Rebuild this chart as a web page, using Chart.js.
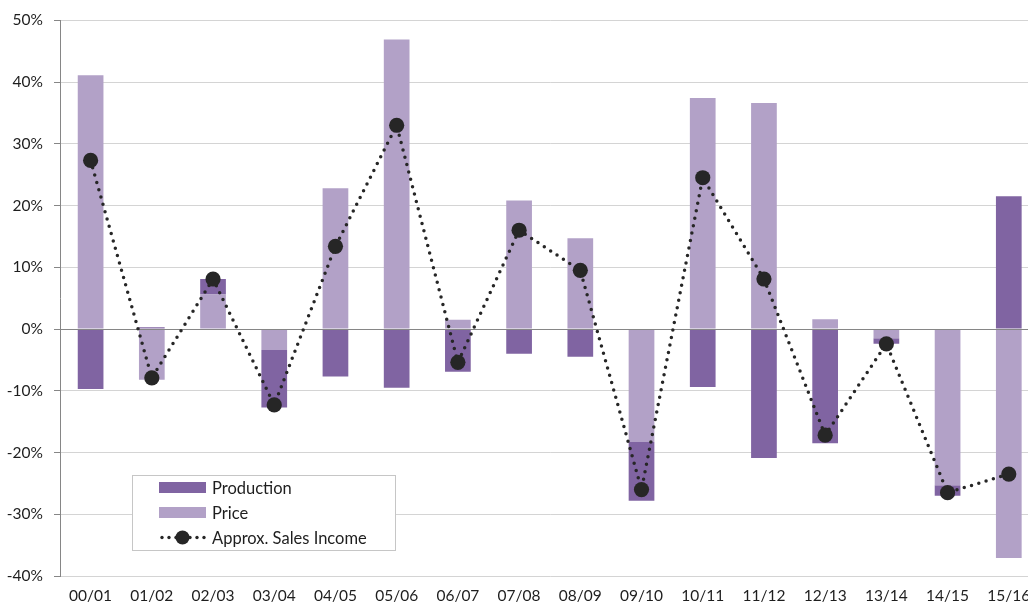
<!DOCTYPE html>
<html>
<head>
<meta charset="utf-8">
<script src="https://cdn.jsdelivr.net/npm/chart.js@4/dist/chart.umd.min.js"></script>
<style>
  html, body { margin: 0; padding: 0; background: #fff; overflow: hidden; }
  #chart { position: absolute; left: 0; top: 0; }
</style>
</head>
<body>
<canvas id="chart" width="1047" height="605"></canvas>
<script>
// Year-on-year change (%) by season
const categories = ['00/01','01/02','02/03','03/04','04/05','05/06','06/07','07/08',
                    '08/09','09/10','10/11','11/12','12/13','13/14','14/15','15/16'];
const production = [-9.7, 0.3, 2.5, -9.3, -7.7, -9.5, -6.9, -4.0,
                    -4.5, -9.5, -9.4, -20.9, -18.5, -0.9, -1.7, 21.5];
const price = [41.1, -8.2, 5.6, -3.4, 22.8, 46.9, 1.5, 20.8,
               14.7, -18.3, 37.4, 36.6, 1.6, -1.5, -25.3, -37.1];
const salesIncome = [27.3, -7.9, 8.1, -12.3, 13.4, 33.0, -5.4, 16.0,
                     9.5, -26.0, 24.5, 8.1, -17.2, -2.4, -26.5, -23.5];
const yTicks = [-40, -30, -20, -10, 0, 10, 20, 30, 40, 50];

const COL_PROD = '#8064A2';
const COL_PRICE = '#B2A1C7';
const COL_LINE = '#262626';
const FONT = 'Lato, "Open Sans", sans-serif';

// Draws the darker zero axis over the bars but beneath the income line
const zeroLine = {
  id: 'zeroLine',
  beforeDatasetDraw(chart, args) {
    if (args.index !== 2) return;
    const { ctx, chartArea } = chart;
    const y = Math.round(chart.scales.y.getPixelForValue(0)) + 0.5;
    ctx.save();
    ctx.strokeStyle = '#868686';
    ctx.lineWidth = 1;
    ctx.beginPath();
    ctx.moveTo(chartArea.left, y);
    ctx.lineTo(chartArea.right, y);
    ctx.stroke();
    ctx.restore();
  }
};

// Boxed legend placed inside the plot area
const boxLegend = {
  id: 'boxLegend',
  afterDraw(chart) {
    const { ctx } = chart;
    const ds = chart.data.datasets;
    const rows = [ds[1], ds[0], ds[2]];
    const bx = 132.5, by = 475.5, bw = 263, bh = 75;
    ctx.save();
    ctx.fillStyle = '#ffffff';
    ctx.fillRect(bx, by, bw, bh);
    ctx.strokeStyle = '#C6C6C6';
    ctx.lineWidth = 1;
    ctx.strokeRect(bx, by, bw, bh);
    ctx.font = '16.5px ' + FONT;
    ctx.textBaseline = 'middle';
    ctx.textAlign = 'left';
    const sx = 159, sw = 47, tx = 212;
    rows.forEach((d, i) => {
      const cy = 487.5 + i * 25;
      if (d.type === 'line') {
        ctx.fillStyle = COL_LINE;
        [162, 169, 176, 190, 197, 204].forEach(px => {
          ctx.beginPath(); ctx.arc(px, cy, 1.7, 0, Math.PI * 2); ctx.fill();
        });
        ctx.beginPath(); ctx.arc(182.5, cy, 7, 0, Math.PI * 2); ctx.fill();
      } else {
        ctx.fillStyle = d.backgroundColor;
        ctx.fillRect(sx, cy - 5.5, sw, 11);
      }
      ctx.fillStyle = '#1e1e1e';
      ctx.fillText(d.label, tx, cy + 1);
    });
    ctx.restore();
  }
};

new Chart(document.getElementById('chart'), {
  type: 'bar',
  data: {
    labels: categories,
    datasets: [
      { type: 'bar', label: 'Price', data: price, backgroundColor: COL_PRICE, stack: 'bars', order: 1 },
      { type: 'bar', label: 'Production', data: production, backgroundColor: COL_PROD, stack: 'bars', order: 1 },
      { type: 'line', label: 'Approx. Sales Income', data: salesIncome, stack: 'line', order: 0,
        borderColor: COL_LINE, borderWidth: 3.5, borderDash: [0, 7.6], borderCapStyle: 'round',
        pointRadius: 7.6, pointBackgroundColor: COL_LINE, pointBorderWidth: 0, tension: 0, fill: false }
    ]
  },
  options: {
    responsive: false,
    animation: false,
    devicePixelRatio: 1,
    layout: { padding: { top: 20, right: 1, left: 0, bottom: 0 } },
    datasets: { bar: { barPercentage: 0.42, categoryPercentage: 1.0 } },
    plugins: { legend: { display: false }, tooltip: { enabled: false } },
    scales: {
      x: {
        stacked: true,
        grid: { display: false, drawTicks: true, tickLength: 11 },
        border: { display: false },
        ticks: { color: '#1e1e1e', font: { family: FONT, size: 15.5 }, padding: 0, maxRotation: 0, autoSkip: false },
        afterFit(s) { s.height = 29; }
      },
      y: {
        stacked: true,
        min: -40, max: 50,
        afterBuildTicks(s) { s.ticks = yTicks.map(v => ({ value: v })); },
        grid: {
          color: ctx => ctx.tick && ctx.tick.value === 0 ? '#868686' : '#D4D4D4',
          tickColor: '#868686', tickLength: 6, lineWidth: 1
        },
        border: { display: true, color: '#868686', width: 1 },
        ticks: { color: '#1e1e1e', font: { family: FONT, size: 15.5 }, padding: 11, callback: v => v + '%' },
        afterFit(s) { s.width = 60; }
      }
    }
  },
  plugins: [zeroLine, boxLegend]
});
</script>
</body>
</html>
